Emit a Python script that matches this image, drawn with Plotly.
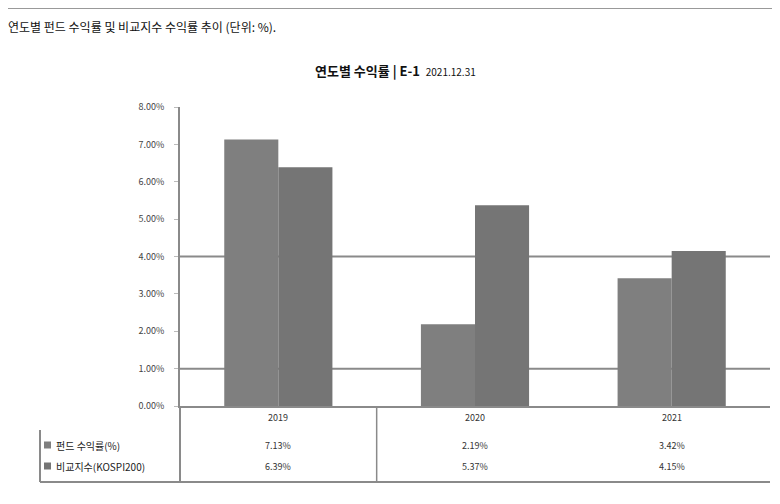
import plotly.graph_objects as go

years = ["2019", "2020", "2021"]
series_names = ["펀드 수익률(%)", "비교지수(KOSPI200)"]
fund = [7.13, 2.19, 3.42]
bench = [6.39, 5.37, 4.15]
tick_vals = [0, 1, 2, 3, 4, 5, 6, 7, 8]
tick_text = ["0.00%", "1.00%", "2.00%", "3.00%", "4.00%", "5.00%", "6.00%", "7.00%", "8.00%"]
grid_vals = [1, 4]

FONT = "Noto Sans CJK KR, Noto Sans, sans-serif"
C1 = "#7f7f7f"
C2 = "#757575"
LINE = "#8a8a8a"

fig = go.Figure()
fig.add_bar(x=years, y=fund, name=series_names[0], marker=dict(color=C1, line=dict(width=0)))
fig.add_bar(x=years, y=bench, name=series_names[1], marker=dict(color=C2, line=dict(width=0)))

OFF = 8  # page body margin
FW, FH = 772, 496
T, B, L, R = 107 - OFF, 406 - OFF, 180 - OFF, 770 - OFF
H = B - T
W = R - L

def py(Y):
    return (B - (Y - OFF)) / H

def px(X):
    return ((X - OFF) - L) / W

shapes = []
for g in grid_vals:
    shapes.append(dict(type="line", xref="paper", yref="y", x0=0, x1=1, y0=g, y1=g,
                       line=dict(color=LINE, width=2), layer="below"))
# top rule
shapes.append(dict(type="line", xref="paper", yref="paper", x0=px(8), x1=px(780), y0=py(8), y1=py(8),
                   line=dict(color="#999999", width=2)))
# table lines
shapes.append(dict(type="line", xref="paper", yref="paper", x0=px(40), x1=1, y0=py(482), y1=py(482),
                   line=dict(color=LINE, width=2)))
shapes.append(dict(type="line", xref="paper", yref="paper", x0=px(40), x1=px(40), y0=py(430), y1=py(482),
                   line=dict(color=LINE, width=2)))
shapes.append(dict(type="line", xref="paper", yref="paper", x0=0, x1=0, y0=0, y1=py(482),
                   line=dict(color=LINE, width=2)))
shapes.append(dict(type="line", xref="x", yref="paper", x0=0.5, x1=0.5, y0=0, y1=py(482),
                   line=dict(color=LINE, width=1.5)))
# legend squares
for Y, c in [(445, C1), (466, C2)]:
    shapes.append(dict(type="rect", xref="paper", yref="paper", x0=px(44), x1=px(51),
                       y0=py(Y + 3.5), y1=py(Y - 3.5), fillcolor=c, line=dict(width=0)))

ann = []
ann.append(dict(text="연도별 펀드 수익률 및 비교지수 수익률 추이 (단위: %).", xref="paper", yref="paper",
                x=px(6), y=py(27), xanchor="left", yanchor="middle", showarrow=False,
                font=dict(family=FONT, size=12, color="#111111")))
ann.append(dict(text="<b>연도별 수익률 | E-1</b>  <span style='font-size:10px'>2021.12.31</span>",
                xref="paper", yref="paper", x=px(395), y=py(70), xanchor="center", yanchor="middle",
                showarrow=False, font=dict(family=FONT, size=13, color="#111111")))
for i, yr in enumerate(years):
    ann.append(dict(text=yr, xref="x", yref="paper", x=i, y=py(417), showarrow=False,
                    yanchor="middle", font=dict(family=FONT, size=9, color="#333333")))
    ann.append(dict(text=f"{fund[i]:.2f}%", xref="x", yref="paper", x=i, y=py(445), showarrow=False,
                    yanchor="middle", font=dict(family=FONT, size=9, color="#333333")))
    ann.append(dict(text=f"{bench[i]:.2f}%", xref="x", yref="paper", x=i, y=py(466), showarrow=False,
                    yanchor="middle", font=dict(family=FONT, size=9, color="#333333")))
for Y, name in [(445, series_names[0]), (466, series_names[1])]:
    ann.append(dict(text=name, xref="paper", yref="paper", x=px(54), y=py(Y), xanchor="left",
                    yanchor="middle", showarrow=False, font=dict(family=FONT, size=10, color="#222222")))

fig.update_layout(
    width=FW, height=FH,
    margin=dict(l=L, r=FW - R, t=T, b=FH - B, pad=0),
    paper_bgcolor="white", plot_bgcolor="white",
    barmode="group", bargap=0.45, bargroupgap=0,
    showlegend=False,
    shapes=shapes, annotations=ann,
    font=dict(family=FONT),
    xaxis=dict(type="category", range=[-0.5, 2.5], showticklabels=False, showgrid=False, showline=True,
               linecolor=LINE, linewidth=2, ticks="", zeroline=False),
    yaxis=dict(range=[0, 8], tickvals=tick_vals, ticktext=tick_text, showgrid=False, zeroline=False,
               showline=True, linecolor=LINE, linewidth=2, ticks="outside", ticklen=4, tickcolor="#bbbbbb",
               tickfont=dict(family=FONT, size=9, color="#444444")),
)
fig.update_yaxes(ticklabelstandoff=8)

fig.write_html("out.html")
